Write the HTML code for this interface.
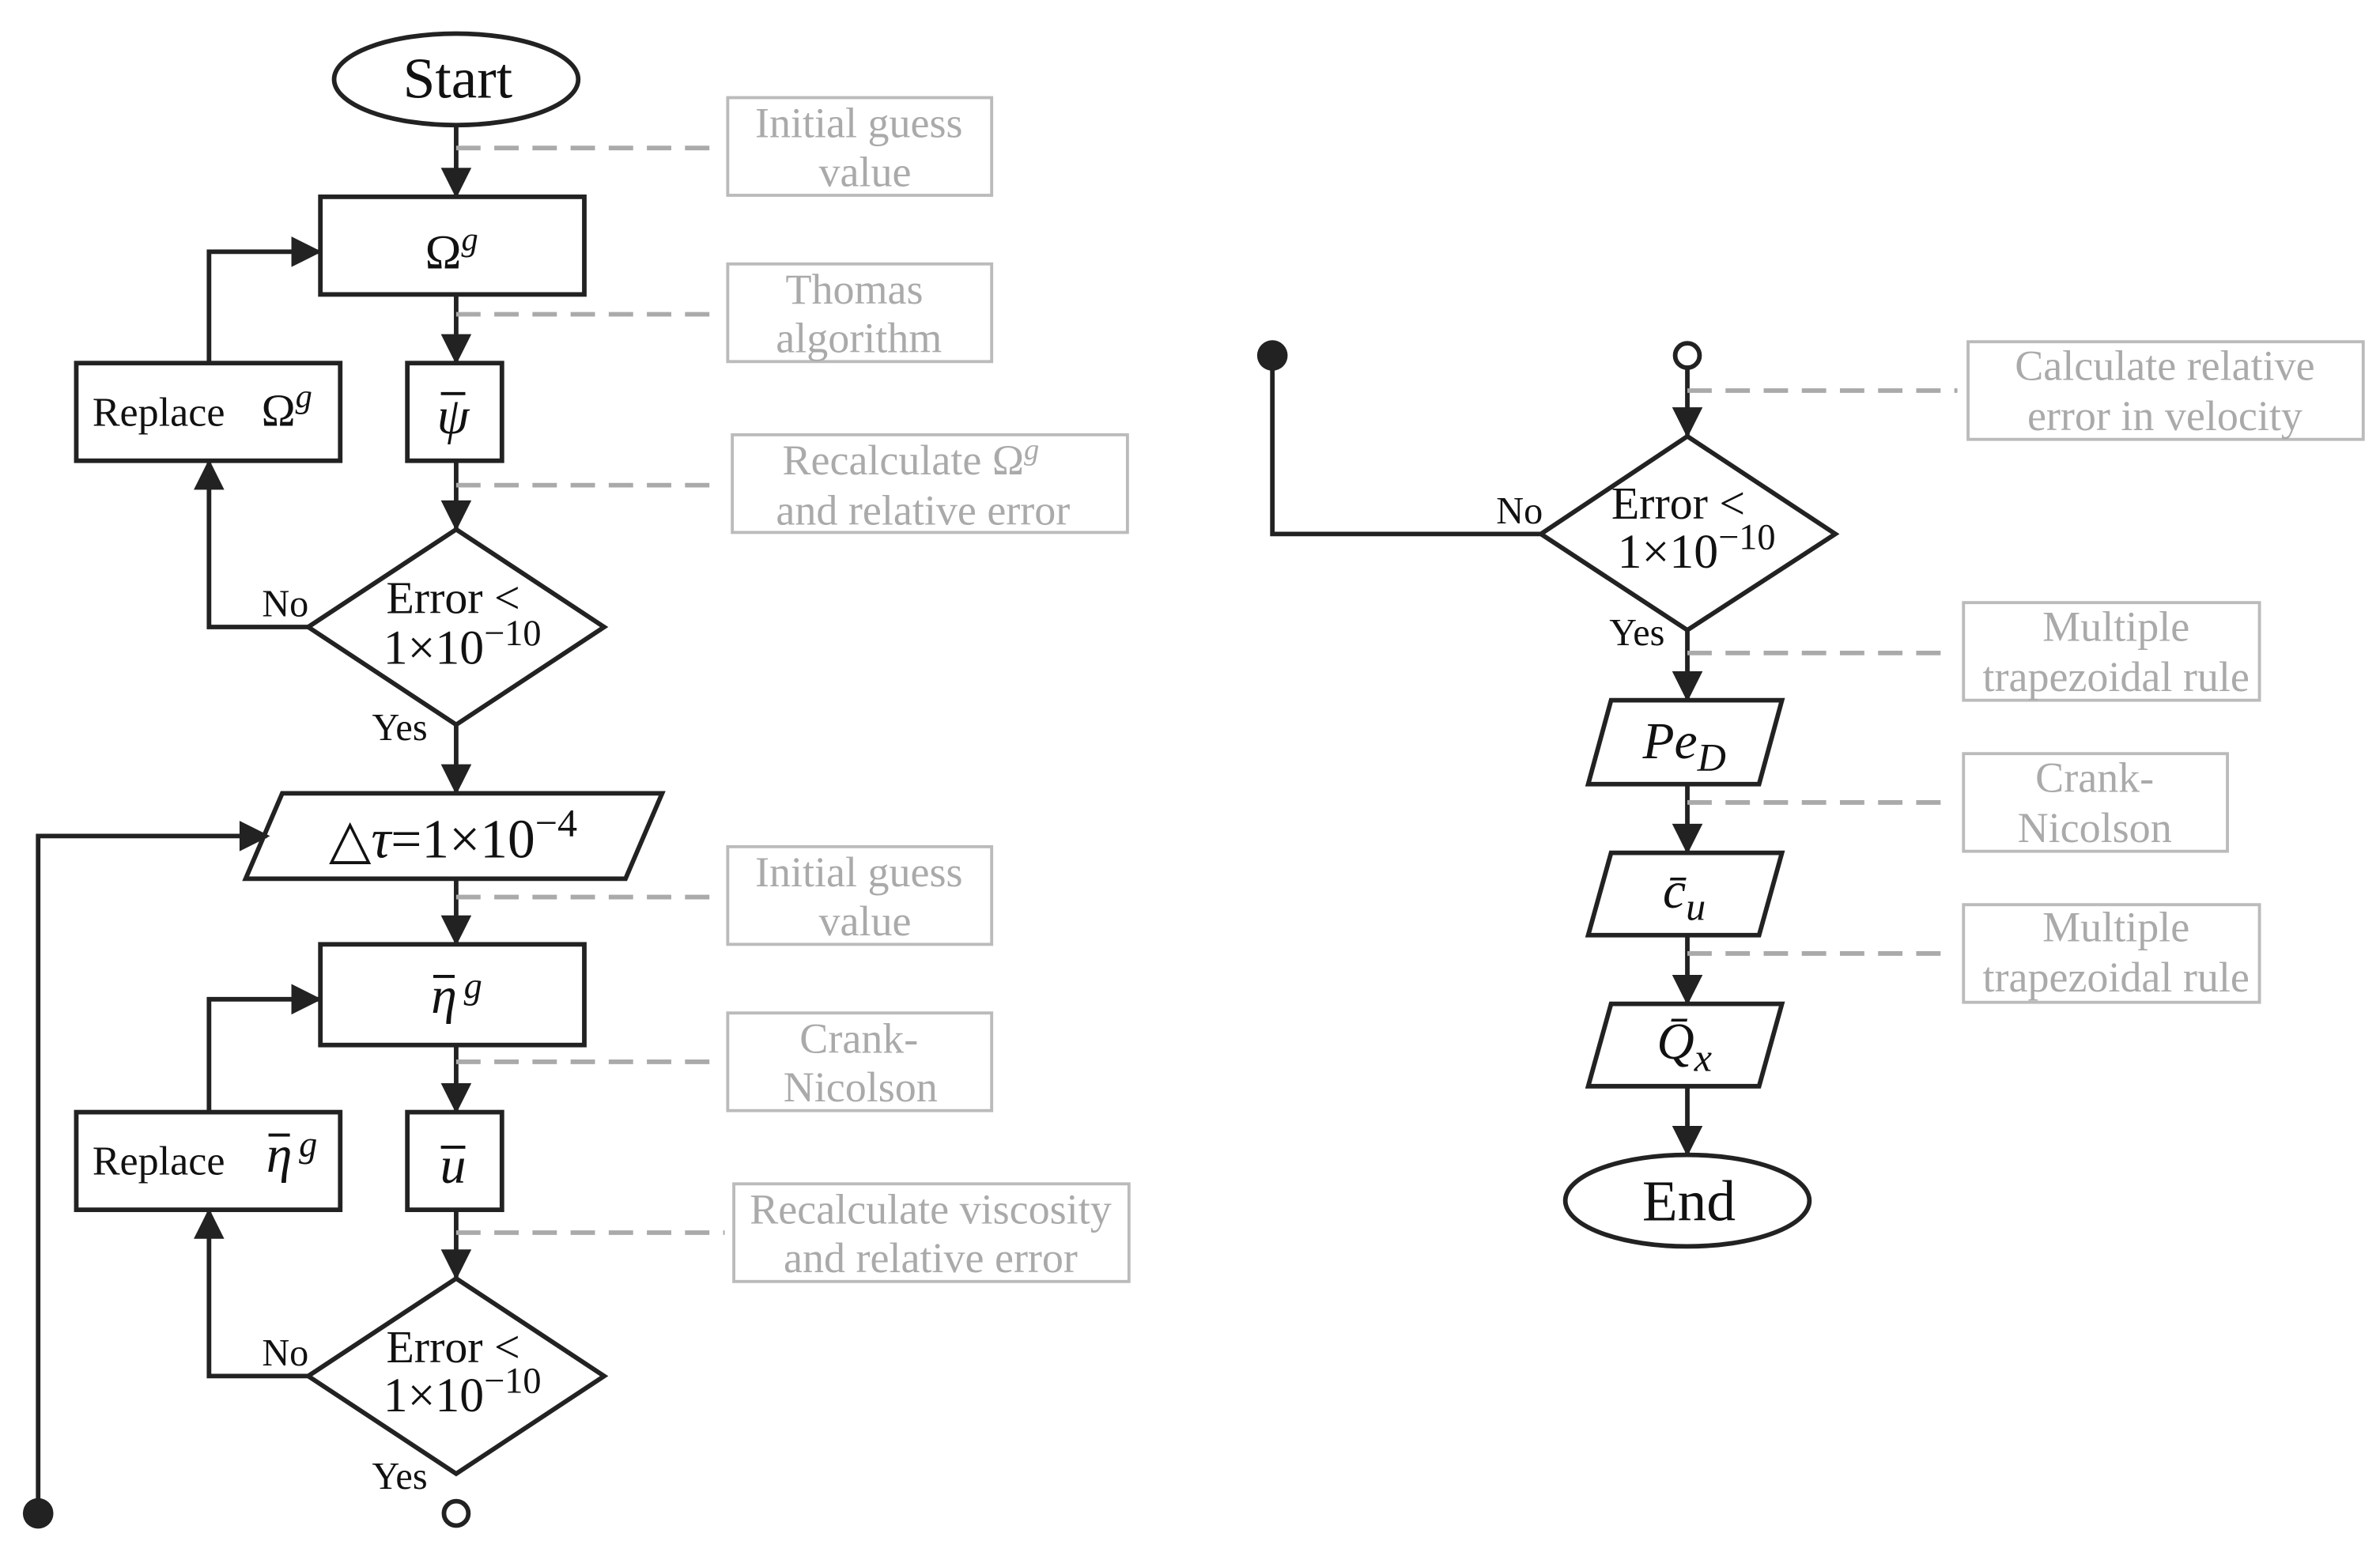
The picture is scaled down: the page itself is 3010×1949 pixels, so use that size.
<!DOCTYPE html>
<html><head><meta charset="utf-8"><style>html,body{margin:0;padding:0;background:#fff}svg{display:block}</style></head><body>
<svg width="3010" height="1949" viewBox="0 0 1560 1010.1" xmlns="http://www.w3.org/2000/svg" font-family="'Liberation Serif', serif">
<defs>
<marker id="b" viewBox="0 0 10 10" refX="9" refY="5" markerWidth="22" markerHeight="20" orient="auto" markerUnits="userSpaceOnUse"><path d="M0,0 L10,5 L0,10 z" fill="#222"/></marker></defs>
<g stroke="#222" stroke-width="3" fill="none">
<ellipse cx="299" cy="52" rx="80" ry="30" fill="#fff"/>
<rect x="210" y="129" width="173" height="64"/>
<rect x="267" y="238" width="62" height="64"/>
<polygon points="299,347 396,411 299,475 202,411"/>
<rect x="50" y="238" width="173" height="64"/>
<polygon points="185,520 434,520 410,576 161,576"/>
<rect x="210" y="619" width="173" height="66"/>
<rect x="267" y="729" width="62" height="64"/>
<polygon points="299,838 396,902 299,966 202,902"/>
<rect x="50" y="729" width="173" height="64"/>
<circle cx="299" cy="992" r="8" fill="#fff"/>
<polygon points="1106,286 1203,350 1106,413 1010,350"/>
<polygon points="1056,459 1168,459 1153,514 1041,514"/>
<polygon points="1056,559 1168,559 1153,613 1041,613"/>
<polygon points="1056,658 1168,658 1153,712 1041,712"/>
<ellipse cx="1106" cy="787" rx="80" ry="30"/>
<circle cx="1106" cy="233" r="8" fill="#fff"/>
<g marker-end="url(#b)">
<line x1="299" y1="82" x2="299" y2="128"/>
<line x1="299" y1="193" x2="299" y2="237"/>
<line x1="299" y1="302" x2="299" y2="346"/>
<line x1="299" y1="475" x2="299" y2="519"/>
<polyline points="202,411 137,411 137,303"/>
<polyline points="137,238 137,165 209,165"/>
<polyline points="25,992 25,548 175,548"/>
<line x1="299" y1="576" x2="299" y2="618"/>
<line x1="299" y1="685" x2="299" y2="728"/>
<line x1="299" y1="793" x2="299" y2="837"/>
<polyline points="202,902 137,902 137,794"/>
<polyline points="137,729 137,655 209,655"/>
<line x1="1106" y1="241" x2="1106" y2="285"/>
<line x1="1106" y1="413" x2="1106" y2="458"/>
<line x1="1106" y1="514" x2="1106" y2="558"/>
<line x1="1106" y1="613" x2="1106" y2="657"/>
<line x1="1106" y1="712" x2="1106" y2="756"/>
</g>
<polyline points="834,233 834,350 1010,350"/>
</g>
<circle cx="25" cy="992" r="10" fill="#222"/>
<circle cx="834" cy="233" r="10" fill="#222"/>
<g stroke="#aaa" stroke-width="3" fill="none" stroke-dasharray="16,9">
<line x1="299" y1="97" x2="470" y2="97"/><line x1="299" y1="206" x2="470" y2="206"/><line x1="299" y1="318" x2="473" y2="318"/>
<line x1="299" y1="588" x2="470" y2="588"/><line x1="299" y1="696" x2="470" y2="696"/><line x1="299" y1="808" x2="475" y2="808"/>
<line x1="1106" y1="256" x2="1283" y2="256"/><line x1="1106" y1="428" x2="1280" y2="428"/><line x1="1106" y1="526" x2="1280" y2="526"/><line x1="1106" y1="625" x2="1280" y2="625"/>
</g>
<g stroke="#bbb" stroke-width="2" fill="none">
<rect x="477" y="64" width="173" height="64"/><rect x="477" y="173" width="173" height="64"/><rect x="480" y="285" width="259" height="64"/>
<rect x="477" y="555" width="173" height="64"/><rect x="477" y="664" width="173" height="64"/><rect x="481" y="776" width="259" height="64"/>
<rect x="1290" y="224" width="259" height="64"/><rect x="1287" y="395" width="194" height="64"/><rect x="1287" y="494" width="173" height="64"/><rect x="1287" y="593" width="194" height="64"/>
</g>
<g fill="#aaa" font-size="28" text-anchor="middle">
<text x="563" y="90">Initial guess</text><text x="567" y="122">value</text>
<text x="560" y="199">Thomas</text><text x="563" y="231">algorithm</text>
<text x="597" y="311">Recalculate Ω<tspan font-style="italic" font-size="20" dy="-10">g</tspan></text><text x="605" y="344">and relative error</text>
<text x="563" y="581">Initial guess</text><text x="567" y="613">value</text>
<text x="563" y="690">Crank-</text><text x="564" y="722">Nicolson</text>
<text x="610" y="802">Recalculate viscosity</text><text x="610" y="834">and relative error</text>
<text x="1419" y="249">Calculate relative</text><text x="1419" y="282">error in velocity</text>
<text x="1387" y="420">Multiple</text><text x="1387" y="453">trapezoidal rule</text>
<text x="1373" y="519">Crank-</text><text x="1373" y="552">Nicolson</text>
<text x="1387" y="617">Multiple</text><text x="1387" y="650">trapezoidal rule</text>
</g>
<g stroke="#111" stroke-width="2">
<line x1="289" y1="258" x2="305" y2="258"/>
<line x1="284" y1="640" x2="298" y2="640"/>
<line x1="176" y1="744" x2="190" y2="744"/>
</g>
<g fill="#111" text-anchor="middle">
<text x="300" y="64" font-size="38">Start</text>
<text x="296" y="176" font-size="32">Ω<tspan font-style="italic" font-size="22" dy="-12">g</tspan></text>
<text x="297" y="284" font-size="34" font-style="italic">ψ</text>
<text x="104" y="279" font-size="27">Replace</text><text x="188" y="279" font-size="30">Ω<tspan font-style="italic" font-size="22" dy="-12">g</tspan></text>
<text x="297" y="402" font-size="30">Error &lt;</text><text x="303" y="435" font-size="32">1×10<tspan font-size="24" dy="-12">−10</tspan></text>
<text x="187" y="404" font-size="25">No</text><text x="262" y="485" font-size="25">Yes</text>
<text x="297" y="562" font-size="36">△<tspan font-style="italic">τ</tspan>=1×10<tspan font-size="26" dy="-14">−4</tspan></text>
<text x="291" y="664" font-size="34" font-style="italic">η</text><text x="310" y="654" font-size="24" font-style="italic">g</text>
<text x="297" y="775" font-size="34" font-style="italic">u</text>
<line x1="289" y1="752" x2="305" y2="752" stroke="#111" stroke-width="2"/>
<text x="104" y="770" font-size="27">Replace</text>
<text x="183" y="768" font-size="34" font-style="italic">η</text><text x="202" y="758" font-size="24" font-style="italic">g</text>
<text x="297" y="893" font-size="30">Error &lt;</text><text x="303" y="925" font-size="32">1×10<tspan font-size="24" dy="-12">−10</tspan></text>
<text x="187" y="895" font-size="25">No</text><text x="262" y="976" font-size="25">Yes</text>
<text x="1100" y="340" font-size="30">Error &lt;</text><text x="1112" y="372" font-size="32">1×10<tspan font-size="24" dy="-12">−10</tspan></text>
<text x="996" y="343" font-size="25">No</text><text x="1073" y="423" font-size="25">Yes</text>
<text x="1104" y="497" font-size="34" font-style="italic">Pe<tspan font-size="26" dy="8">D</tspan></text>
<text x="1104" y="595" font-size="34" font-style="italic">c̄<tspan font-size="26" dy="8">u</tspan></text>
<text x="1104" y="694" font-size="34" font-style="italic">Q̄<tspan font-size="26" dy="8">x</tspan></text>
<text x="1107" y="800" font-size="38">End</text>
</g>
</svg>
</body></html>
